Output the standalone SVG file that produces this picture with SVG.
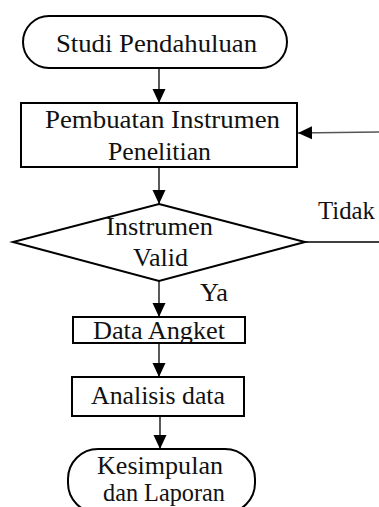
<svg xmlns="http://www.w3.org/2000/svg" width="379" height="507" viewBox="0 0 379 507">
<style>
.shape{fill:#fff;stroke:#000;stroke-width:2}
.conn{fill:none;stroke:#000;stroke-width:1.3}
.gray{stroke:#555}
text{font-family:"Liberation Serif","Times New Roman",serif;font-size:25px;fill:#111}
</style>
<defs>
<marker id="ah" markerUnits="userSpaceOnUse" markerWidth="14" markerHeight="14" viewBox="0 0 14 14" refX="14" refY="7" orient="auto">
<path d="M0,0.5 L14,7 L0,13.5 Z" fill="#000"/>
</marker>
</defs>
<rect width="379" height="507" fill="#fff"/>
<g id="connectors">
<line class="conn" x1="159" y1="68" x2="159" y2="103" marker-end="url(#ah)"/>
<line class="conn" x1="159" y1="167" x2="159" y2="204" marker-end="url(#ah)"/>
<line class="conn" x1="159" y1="281" x2="159" y2="317" marker-end="url(#ah)"/>
<line class="conn" x1="159" y1="343" x2="159" y2="377" marker-end="url(#ah)"/>
<line class="conn" x1="160" y1="416" x2="160" y2="449" marker-end="url(#ah)"/>
<line class="conn" x1="305" y1="242" x2="379" y2="242"/>
<line class="conn gray" x1="379" y1="132" x2="298" y2="133" marker-end="url(#ah)"/>
<text x="318" y="219" textLength="57" lengthAdjust="spacingAndGlyphs">Tidak</text>
<text x="200" y="301" textLength="28" lengthAdjust="spacingAndGlyphs">Ya</text>
</g>
<g id="studi">
<rect class="shape" x="23" y="16" width="264" height="52" rx="26" ry="26"/>
<text x="56" y="52" textLength="201" lengthAdjust="spacingAndGlyphs">Studi Pendahuluan</text>
</g>
<g id="pembuatan">
<rect class="shape" x="21" y="103" width="276" height="64"/>
<text x="45" y="128" textLength="235" lengthAdjust="spacingAndGlyphs">Pembuatan Instrumen</text>
<text x="108" y="160" textLength="103" lengthAdjust="spacingAndGlyphs">Penelitian</text>
</g>
<g id="valid">
<polygon class="shape" points="159,204 305,242 159,281 13,242"/>
<text x="106" y="235" textLength="107" lengthAdjust="spacingAndGlyphs">Instrumen</text>
<text x="133" y="266" textLength="55" lengthAdjust="spacingAndGlyphs">Valid</text>
</g>
<g id="angket">
<rect class="shape" x="73" y="317" width="172" height="26"/>
<text x="93" y="339" textLength="132" lengthAdjust="spacingAndGlyphs">Data Angket</text>
</g>
<g id="analisis">
<rect class="shape" x="72" y="377" width="172" height="39"/>
<text x="91" y="404" textLength="134" lengthAdjust="spacingAndGlyphs">Analisis data</text>
</g>
<g id="kesimpulan">
<rect class="shape" x="68" y="449" width="187" height="64" rx="30" ry="30"/>
<text x="97" y="474" textLength="126" lengthAdjust="spacingAndGlyphs">Kesimpulan</text>
<text x="103" y="501" textLength="122" lengthAdjust="spacingAndGlyphs">dan Laporan</text>
</g>
</svg>
